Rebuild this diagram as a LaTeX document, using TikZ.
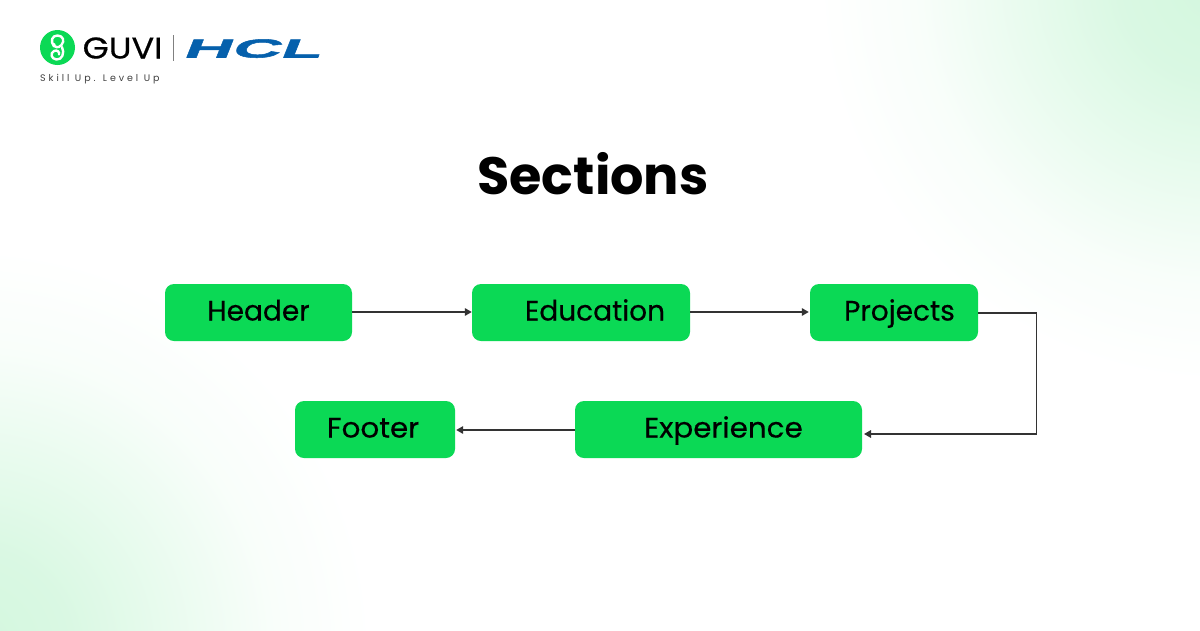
\documentclass[tikz,border=0pt]{standalone}
\usepackage{fontspec}
\setmainfont{Poppins}
\newfontfamily\hclfont[FakeSlant=0.4,FakeStretch=2.58,FakeBold=2]{Liberation Sans Bold}
\newfontfamily\tagfont[LetterSpace=31]{Poppins}
\newfontfamily\guvifont[FakeStretch=1.12,FakeBold=0.6]{Poppins}
\newfontfamily\labelfont[FakeBold=0.4]{Poppins}
\newfontfamily\widelabelfont[FakeBold=0.4,FakeStretch=1.05]{Poppins}
\usetikzlibrary{arrows.meta,calc}
\definecolor{boxgreen}{HTML}{0BD955}
\definecolor{linegray}{HTML}{333333}
\definecolor{hclblue}{HTML}{0560AC}
\definecolor{glowgreen}{HTML}{D3F7DE}
\pgfdeclareradialshading{glow}{\pgfpointorigin}{
 color(0bp)=(glowgreen); color(6bp)=(glowgreen!85!white); color(12bp)=(glowgreen!50!white); color(18bp)=(glowgreen!15!white); color(24bp)=(white); color(50bp)=(white)}
\tikzset{
 x=1pt,y=-1pt,
 stagebox/.style={fill=boxgreen,rounded corners=9pt,minimum height=57pt,inner sep=0pt,font=\labelfont\fontsize{28}{32}\selectfont,text=black,text height=19.5pt,text depth=3.5pt},
 widebox/.style={stagebox,font=\widelabelfont\fontsize{28}{32}\selectfont},
 flow/.style={draw=linegray,line width=1.6pt,-{Triangle[length=7pt,width=7.5pt]}},
}
\begin{document}
\begin{tikzpicture}
\useasboundingbox (0,0) rectangle (1200,630);
\fill[white] (0,0) rectangle (1200,630);
\begin{scope}
\clip (0,0) rectangle (1200,630);
\shade[shading=glow] (1220,-20) ++(-420,-420) rectangle ++(840,840);
\shade[shading=glow] (-30,650) ++(-420,-420) rectangle ++(840,840);
\end{scope}

% logo
\node[circle,fill=boxgreen,minimum size=35pt,inner sep=0pt] (mark) at (57.5,47.5) {};
\draw[white,line width=2.4pt,line cap=round,line join=round]
 (54,46.5) .. controls (50,41) and (52,35.5) .. (57.5,35.5)
 .. controls (63,35.5) and (65,41) .. (61.5,45)
 .. controls (58,49) and (54,47) .. (54,44);
\draw[white,line width=2.4pt,line cap=round,line join=round]
 (62,47) .. controls (65,53) and (62,60) .. (56.5,59.5)
 .. controls (51,59) and (50,53) .. (54,51)
 .. controls (57,49.5) and (60,52) .. (59,54.5);
\node[anchor=base west,inner sep=0pt,font=\guvifont\fontsize{30}{32}\selectfont,text=black] (guvi) at (82.5,58.5) {GUVI};
\coordinate (divtop) at (173.5,35);
\coordinate (divbot) at (173.5,60.5);
\draw[gray,line width=0.7pt] (divtop) -- (divbot);
\node[anchor=base west,inner sep=0pt,font=\hclfont\fontsize{26}{28}\selectfont,text=hclblue] (hcl) at (182,57.5) {HCL};
\node[anchor=base west,inner sep=0pt,font=\tagfont\fontsize{9.5}{11}\selectfont,text=black!75] (tag) at (40,81.5) {Skill Up. Level Up};

% title
\node[inner sep=0pt,font=\bfseries\fontsize{52.5}{56}\selectfont,text=black] (title) at (593,174) {Sections};

% boxes
\node[stagebox,minimum width=187pt] (header) at (258.5,312.5) {Header};
\node[stagebox,minimum width=218pt] (education) at (581,312.5) {\hspace*{28pt}Education};
\node[stagebox,minimum width=168pt] (projects) at (894,312.5) {\hspace*{11pt}Projects};
\node[widebox,minimum width=287pt] (experience) at (718.5,429.5) {\hspace*{10pt}Experience};
\node[widebox,minimum width=160pt] (footer) at (375,429.5) {Footer\hspace*{4pt}};

% connectors
\draw[flow] ($(header.east)+(0,-0.5)$) -- ($(education.west)+(0,-0.5)$);
\draw[flow] ($(education.east)+(0,-0.5)$) -- ($(projects.west)+(-1,-0.5)$);
\coordinate (bendtop) at (1036.5,313);
\coordinate (bendbot) at (1036.5,434);
\coordinate (expin) at (864,434);
\draw[flow] ($(projects.east)+(0,0.5)$) -- (bendtop) -- (bendbot) -- (expin);
\draw[flow] ($(experience.west)+(0,0.5)$) -- ($(footer.east)+(1,0.5)$);
\end{tikzpicture}
\end{document}
